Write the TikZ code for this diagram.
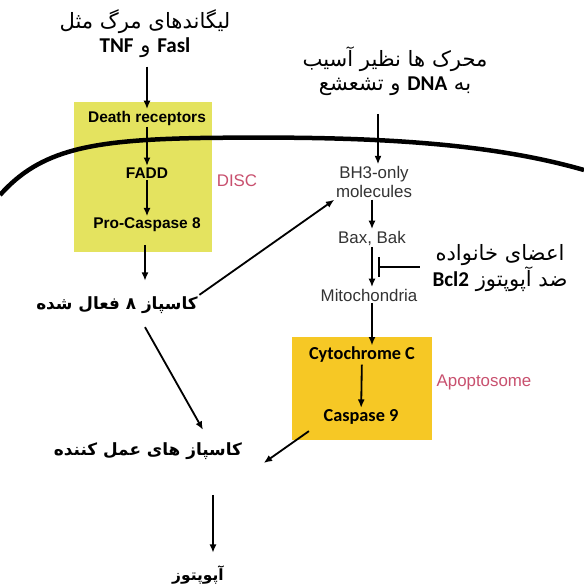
\documentclass[tikz,border=0pt]{standalone}
\usepackage{fontspec}
\setmainfont{Liberation Sans}
\newfontfamily\farsi[Script=Arabic]{DejaVu Sans}
\newfontfamily\calib{Carlito}
\usetikzlibrary{arrows.meta,calc}
\TeXXeTstate=1
\definecolor{disccol}{RGB}{228,227,95}
\definecolor{apocol}{RGB}{246,200,37}
\definecolor{labred}{RGB}{200,80,110}

\begin{document}
\begin{tikzpicture}[x=0.025cm,y=-0.025cm,
    arr/.style={-{Latex[length=6pt,width=5pt]}, line width=1.3pt},
    eng/.style={font=\fontsize{12}{14}\selectfont, text=black!80, inner sep=1pt, align=center},
    engb/.style={font=\fontsize{11}{13}\selectfont\bfseries, inner sep=1pt},
    cal/.style={font=\calib\fontsize{13}{15}\selectfont\bfseries, inner sep=1pt},
    fa/.style={font=\farsi\fontsize{15}{17}\selectfont, align=center, inner sep=1pt},
    fab/.style={font=\farsi\fontsize{12}{17}\selectfont\bfseries, align=center, inner sep=1pt}]
    \useasboundingbox (0,0) rectangle (584,588);
    % DISC and apoptosome boxes
    \fill[disccol] (74,102) rectangle (212,252);
    \fill[apocol] (292,337) rectangle (432,440);
    % Cell membrane
    \draw[line width=3.2pt] (0,195) .. controls (40,150) and (90,140) .. (200,138)
        .. controls (350,136) and (480,140) .. (584,170);
    % Extrinsic pathway
    \node[fa] (ligand) at (145,34) {\beginR لیگاندهای مرگ مثل\endR\\
        \beginR{\calib\bfseries Fasl} و {\calib\bfseries TNF}\endR};
    \node[engb] (deathrec) at (147,118) {Death receptors};
    \node[engb] (fadd) at (147,173) {FADD};
    \node[engb] (procasp) at (147,225) {Pro-Caspase 8};
    \node[eng, text=labred] (disc) at (237,181) {DISC};
    \node[fab] (casp8) at (117,305) {\beginR کاسپاز ۸ فعال شده\endR};
    % Intrinsic pathway
    \node[fa] (stimuli) at (395,71) {\beginR محرک ها نظیر آسیب\endR\\
        \beginR به {\calib\bfseries DNA} و تشعشع\endR};
    \node[eng] (bh3) at (374,182) {BH3-only\\molecules};
    \node[eng] (baxbak) at (372,238) {Bax, Bak};
    \node[eng] (mito) at (369,295) {Mitochondria};
    \node[fa] (bcl) at (500,268) {\beginR اعضای خانواده\endR\\
        \beginR ضد آپوپتوز {\calib\bfseries Bcl2}\endR};
    \node[cal] (cytc) at (362,355) {Cytochrome C};
    \node[cal] (casp9) at (361,417) {Caspase 9};
    \node[eng, text=labred] (apoptosome) at (484,382) {Apoptosome};
    % Execution
    \node[fab] (execasp) at (148,451) {\beginR کاسپاز های عمل کننده\endR};
    \node[fab, font=\farsi\fontsize{11}{14}\selectfont\bfseries] (apop) at (198,575) {\beginR آپوپتوز\endR};
    % Arrows
    \draw[arr, shorten <=5pt] (ligand.south -| deathrec) -- (deathrec.north);
    \draw[arr] (deathrec) -- (fadd);
    \draw[arr] (fadd) -- (procasp);
    \draw[arr, shorten <=8pt, shorten >=10pt] ($(procasp.south)+(-2,0)$) -- ($(procasp.south |- casp8.north)+(-2,0)$);
    \draw[arr] (casp8.north east) -- (bh3.south west);
    \draw[arr] ($(casp8.south)+(28,12)$) -- ($(execasp.north)+(55,-11)$);
    \draw[arr, shorten <=12pt] ($(stimuli.south -| bh3)+(4,0)$) -- ($(bh3.north)+(4,0)$);
    \draw[arr] (bh3.south -| baxbak) -- (baxbak.north);
    \draw[arr] (baxbak.south -| mito.north east) ++(-47,0) coordinate (bb) -- (bb |- mito.north);
    \coordinate (inh) at (378,267);
    \draw[line width=1.3pt, -{Bar[width=14pt]}, shorten <=8pt] (bcl.west |- inh) -- (inh);
    \draw[arr] ($(mito.south)+(3,0)$) -- ($(mito.south |- cytc.north)+(3,0)$);
    \draw[arr] (cytc) -- (casp9);
    \draw[arr] ($(casp9.south west)+(-13,5)$) -- ($(execasp.east)+(20,12)$);
    \draw[arr, shorten <=24pt, shorten >=8pt] ($(execasp.south -| apop.north)+(15,0)$) -- ($(apop.north)+(15,0)$);
\end{tikzpicture}
\end{document}
